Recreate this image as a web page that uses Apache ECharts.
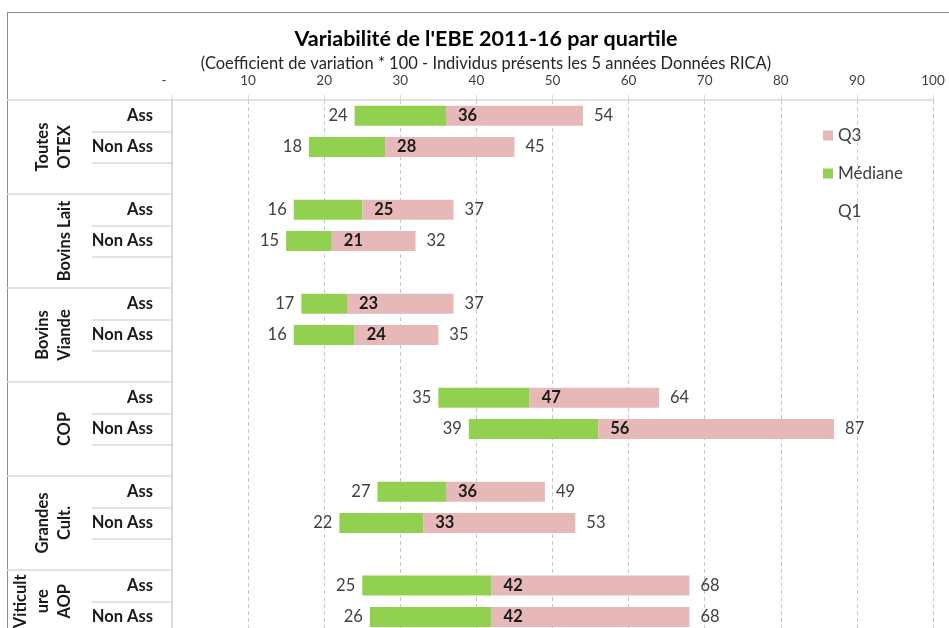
<!DOCTYPE html>
<html>
<head>
<meta charset="utf-8">
<script src="https://cdn.jsdelivr.net/npm/echarts@6/dist/echarts.min.js"></script>
<style>
html,body{margin:0;padding:0;background:#fff;}
#wrap{position:relative;width:949px;height:628px;overflow:hidden;}
#frame{position:absolute;left:7px;top:12px;width:960px;height:700px;border-top:1.5px solid #8c8c8c;border-left:1.5px solid #8c8c8c;box-sizing:border-box;}
#chart{position:absolute;left:0;top:0;width:949px;height:628px;}
</style>
</head>
<body>
<div id="wrap"><div id="frame"></div><div id="chart"></div></div>
<script>
// ---- data ----
const groups = ['Toutes\nOTEX', 'Bovins Lait', 'Bovins\nViande', 'COP', 'Grandes\nCult.', 'Viticult\nure\nAOP'];
const subCats = ['Ass', 'Non Ass'];
const q1  = [24, 18, 16, 15, 17, 16, 35, 39, 27, 22, 25, 26];
const med = [36, 28, 25, 21, 23, 24, 47, 56, 36, 33, 42, 42];
const q3  = [54, 45, 37, 32, 37, 35, 64, 87, 49, 53, 68, 68];

// ---- build rows (Ass, Non Ass, then a blank spacer row except after the last group) ----
const rowCats = [], rowQ1 = [], rowMed = [], rowQ3 = [];
const groupStart = [], groupEnd = [];
groups.forEach((g, gi) => {
  groupStart.push(rowCats.length);
  subCats.forEach((s, si) => {
    const k = gi * 2 + si;
    rowCats.push(s); rowQ1.push(q1[k]); rowMed.push(med[k]); rowQ3.push(q3[k]);
  });
  if (gi < groups.length - 1) {
    rowCats.push(''); rowQ1.push(null); rowMed.push(null); rowQ3.push(null);
  }
  groupEnd.push(rowCats.length);
});
const nRows = rowCats.length;
const groupBounds = [0].concat(groupEnd);
const groupCenters = groupStart.map((s, i) => (s + groupEnd[i]) / 2);

const FONT = 'Lato';
const ROW_H = 31.33;
const chart = echarts.init(document.getElementById('chart'), null, {renderer: 'canvas'});
chart.setOption({
  animation: false,
  textStyle: {fontFamily: FONT},
  title: {
    text: "Variabilité de l'EBE 2011-16 par quartile",
    subtext: '(Coefficient de variation * 100 - Individus présents les 5 années Données RICA)',
    left: 481, top: 23, textAlign: 'center', itemGap: 5,
    textStyle: {fontFamily: FONT, fontSize: 21.5, fontWeight: 'bold', color: '#000'},
    subtextStyle: {fontFamily: FONT, fontSize: 16.5, color: '#262626'}
  },
  legend: {
    data: ['Q3', 'Médiane', 'Q1'],
    orient: 'vertical', left: 823, top: 127, itemGap: 21, padding: 0,
    itemWidth: 10, itemHeight: 10, icon: 'rect',
    textStyle: {fontFamily: FONT, fontSize: 17, color: '#404040'}
  },
  grid: {left: 172, top: 100, width: 761, height: nRows * ROW_H, containLabel: false, outerBoundsMode: 'none'},
  xAxis: {
    type: 'value', position: 'top', min: 0, max: 100, interval: 10,
    axisLine: {show: true, lineStyle: {color: '#d9d9d9', width: 1.5}},
    axisTick: {show: true, length: 5, lineStyle: {color: '#d9d9d9'}},
    axisLabel: {
      margin: 12, fontSize: 13.5, color: '#404040', fontFamily: FONT,
      formatter: v => (v === 0 ? '{z|-}' : String(v)),
      rich: {z: {fontSize: 13.5, color: '#404040', padding: [0, 16, 0, 0]}}
    },
    splitLine: {show: true, lineStyle: {color: '#c8c8c8', type: [4, 3], width: 1}}
  },
  yAxis: [
    {
      type: 'category', data: rowCats, inverse: true, position: 'left',
      axisLine: {show: true, lineStyle: {color: '#d9d9d9', width: 1.5}},
      axisTick: {show: true, length: 80, interval: 0, lineStyle: {color: '#d9d9d9', width: 1.5}},
      axisLabel: {interval: 0, margin: 19, fontSize: 16.5, fontWeight: 'bold', color: '#1a1a1a', fontFamily: FONT}
    },
    {
      type: 'value', min: 0, max: nRows, inverse: true, position: 'left',
      splitLine: {show: false},
      axisLine: {show: true, lineStyle: {color: '#d9d9d9', width: 1.5}},
      axisTick: {show: true, length: 165, customValues: groupBounds, lineStyle: {color: '#d9d9d9', width: 1.5}},
      axisLabel: {
        customValues: groupCenters, rotate: 90, margin: 96, fontSize: 16.5, lineHeight: 22,
        fontWeight: 'bold', color: '#1a1a1a', fontFamily: FONT,
        formatter: v => { const i = groupCenters.indexOf(v); return i >= 0 ? groups[i] : ''; }
      }
    }
  ],
  series: [
    {
      name: 'Q1', type: 'bar', stack: 'q', yAxisIndex: 0, barWidth: 20,
      data: rowQ1,
      itemStyle: {color: 'rgba(0,0,0,0)'},
      label: {show: true, position: 'insideRight', distance: 7, fontSize: 16.5, color: '#404040', fontFamily: FONT,
        formatter: p => (p.value == null ? '' : String(rowQ1[p.dataIndex]))}
    },
    {
      name: 'Médiane', type: 'bar', stack: 'q', yAxisIndex: 0, barWidth: 20,
      data: rowMed.map((m, i) => (m == null ? null : m - rowQ1[i])),
      itemStyle: {color: '#92D050'},
      label: {show: true, position: 'right', distance: 12, fontSize: 16.5, fontWeight: 'bold', color: '#1a1a1a', fontFamily: FONT,
        formatter: p => (p.value == null ? '' : String(rowMed[p.dataIndex]))}
    },
    {
      name: 'Q3', type: 'bar', stack: 'q', yAxisIndex: 0, barWidth: 20,
      data: rowQ3.map((m, i) => (m == null ? null : m - rowMed[i])),
      itemStyle: {color: '#E6B9B8'},
      label: {show: true, position: 'right', distance: 11, fontSize: 16.5, color: '#404040', fontFamily: FONT,
        formatter: p => (p.value == null ? '' : String(rowQ3[p.dataIndex]))}
    }
  ]
});
</script>
</body>
</html>
